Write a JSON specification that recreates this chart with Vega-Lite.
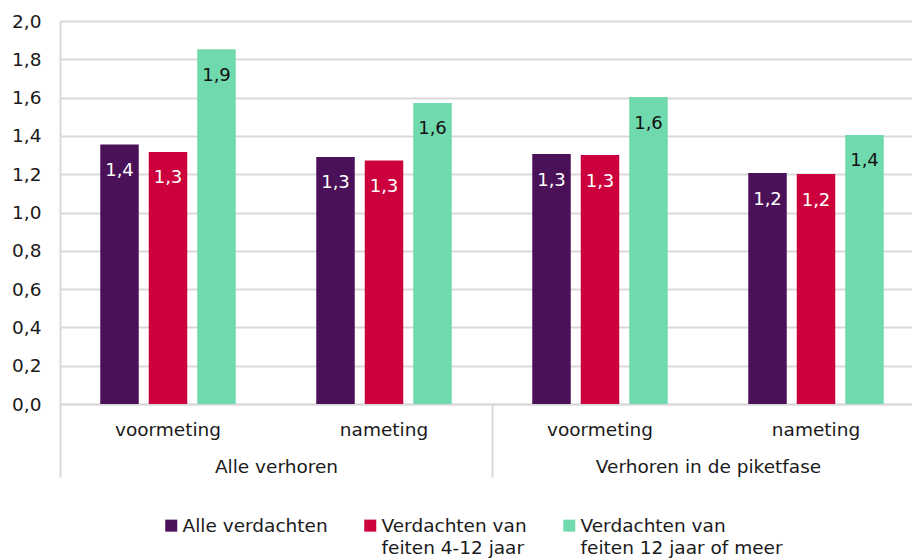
{
  "$schema": "https://vega.github.io/schema/vega-lite/v6.json",
  "width": 864,
  "height": 383,
  "autosize": {"type": "none"},
  "padding": {"left": 60, "top": 21, "right": 0, "bottom": 154},
  "config": {
    "locale": {"number": {"decimal": ",", "thousands": ".", "grouping": [3], "currency": ["€ ", ""]}},
    "view": {"stroke": null},
    "font": "DejaVu Sans",
    "axis": {"labelColor": "#1a1a1a", "labelFont": "DejaVu Sans", "labelLimit": 400},
    "style": {"guide-label": {"dy": 6.5, "lineHeight": 22}}
  },
  "data": {
    "values": [
      {"groep": "Alle verhoren", "meting": "voormeting", "cat": "Alle verhoren voormeting", "reeks": "Alle verdachten", "waarde": 1.355},
      {"groep": "Alle verhoren", "meting": "voormeting", "cat": "Alle verhoren voormeting", "reeks": "Verdachten van feiten 4-12 jaar", "waarde": 1.316},
      {"groep": "Alle verhoren", "meting": "voormeting", "cat": "Alle verhoren voormeting", "reeks": "Verdachten van feiten 12 jaar of meer", "waarde": 1.853},
      {"groep": "Alle verhoren", "meting": "nameting", "cat": "Alle verhoren nameting", "reeks": "Alle verdachten", "waarde": 1.29},
      {"groep": "Alle verhoren", "meting": "nameting", "cat": "Alle verhoren nameting", "reeks": "Verdachten van feiten 4-12 jaar", "waarde": 1.272},
      {"groep": "Alle verhoren", "meting": "nameting", "cat": "Alle verhoren nameting", "reeks": "Verdachten van feiten 12 jaar of meer", "waarde": 1.572},
      {"groep": "Verhoren in de piketfase", "meting": "voormeting", "cat": "Verhoren in de piketfase voormeting", "reeks": "Alle verdachten", "waarde": 1.305},
      {"groep": "Verhoren in de piketfase", "meting": "voormeting", "cat": "Verhoren in de piketfase voormeting", "reeks": "Verdachten van feiten 4-12 jaar", "waarde": 1.3},
      {"groep": "Verhoren in de piketfase", "meting": "voormeting", "cat": "Verhoren in de piketfase voormeting", "reeks": "Verdachten van feiten 12 jaar of meer", "waarde": 1.603},
      {"groep": "Verhoren in de piketfase", "meting": "nameting", "cat": "Verhoren in de piketfase nameting", "reeks": "Alle verdachten", "waarde": 1.206},
      {"groep": "Verhoren in de piketfase", "meting": "nameting", "cat": "Verhoren in de piketfase nameting", "reeks": "Verdachten van feiten 4-12 jaar", "waarde": 1.201},
      {"groep": "Verhoren in de piketfase", "meting": "nameting", "cat": "Verhoren in de piketfase nameting", "reeks": "Verdachten van feiten 12 jaar of meer", "waarde": 1.405}
    ]
  },
  "layer": [
    {
      "encoding": {
        "x": {
          "field": "cat", "type": "nominal",
          "sort": ["Alle verhoren voormeting", "Alle verhoren nameting", "Verhoren in de piketfase voormeting", "Verhoren in de piketfase nameting"],
          "scale": {"paddingInner": 0, "paddingOuter": 0},
          "axis": {
            "title": null, "ticks": false, "labelAngle": 0,
            "labelExpr": "indexof(datum.label, 'voormeting') >= 0 ? 'voormeting' : 'nameting'",
            "labelFontSize": 18.5, "labelPadding": 10,
            "domainColor": "#d9d9d9", "domainWidth": 2
          }
        },
        "xOffset": {
          "field": "reeks", "type": "nominal",
          "sort": ["Alle verdachten", "Verdachten van feiten 4-12 jaar", "Verdachten van feiten 12 jaar of meer"],
          "scale": {"paddingInner": 0.206, "paddingOuter": 0.83}
        },
        "y": {
          "field": "waarde", "type": "quantitative",
          "scale": {"domain": [0, 2], "nice": false},
          "axis": {
            "title": null, "values": [0, 0.2, 0.4, 0.6, 0.8, 1, 1.2, 1.4, 1.6, 1.8, 2],
            "format": ".1f", "labelFontSize": 18.5, "labelPadding": 19, "labelOffset": -6.5, "ticks": false,
            "grid": true, "gridColor": "#d9d9d9", "gridWidth": 2,
            "domain": true, "domainColor": "#d9d9d9", "domainWidth": 2
          }
        }
      },
      "layer": [
        {
          "mark": {"type": "bar"},
          "encoding": {
            "color": {
              "field": "reeks", "type": "nominal",
              "scale": {
                "domain": ["Alle verdachten", "Verdachten van feiten 4-12 jaar", "Verdachten van feiten 12 jaar of meer"],
                "range": ["#4A1158", "#CC003D", "#70D9AE"]
              },
              "legend": {
                "title": null, "orient": "none", "direction": "horizontal",
                "legendX": 102, "legendY": 495,
                "symbolType": "square", "symbolSize": 144, "symbolStrokeWidth": 0,
                "labelFontSize": 18.5, "labelColor": "#1a1a1a", "labelLimit": 400,
                "labelOffset": 2, "columnPadding": 33,
                "labelBaseline": "alphabetic",
                "labelExpr": "datum.value == 'Verdachten van feiten 4-12 jaar' ? ['Verdachten van', 'feiten 4-12 jaar'] : datum.value == 'Verdachten van feiten 12 jaar of meer' ? ['Verdachten van', 'feiten 12 jaar of meer'] : ['Alle verdachten', ' ']"
              }
            }
          }
        },
        {
          "mark": {"type": "text", "baseline": "middle", "dy": 26.5, "fontSize": 18},
          "encoding": {
            "text": {"field": "waarde", "type": "quantitative", "format": ".1f"},
            "color": {
              "condition": {"test": "datum.reeks === 'Verdachten van feiten 12 jaar of meer'", "value": "#111111"},
              "value": "white"
            }
          }
        }
      ]
    },
    {
      "mark": {"type": "text"},
      "encoding": {
        "x": {
          "field": "groep", "type": "nominal",
          "scale": {"paddingInner": 0, "paddingOuter": 0},
          "axis": {
            "title": null, "orient": "bottom", "labelAngle": 0, "domain": false,
            "tickBand": "extent", "tickSize": 73, "tickColor": "#d9d9d9", "tickWidth": 2,
            "labelFontSize": 18.5, "labelPadding": -26
          }
        },
        "text": {"value": ""}
      }
    }
  ],
  "resolve": {"scale": {"x": "independent"}, "axis": {"x": "independent"}}
}
